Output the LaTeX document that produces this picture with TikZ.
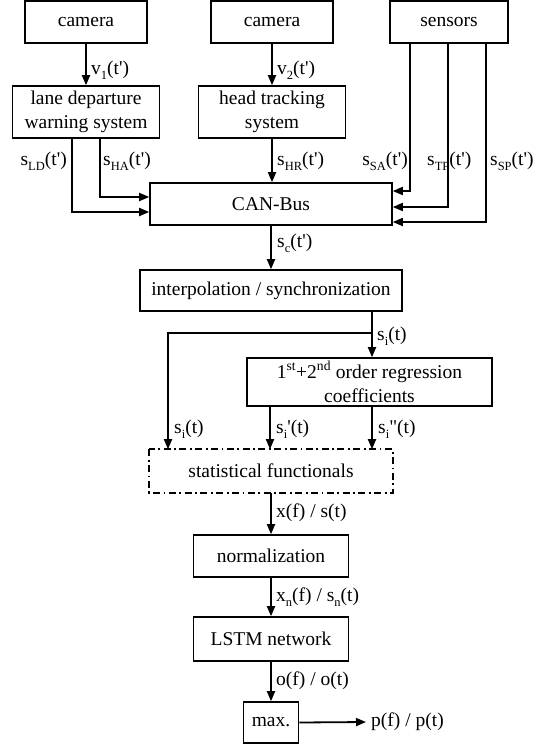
\documentclass[tikz,border=0pt]{standalone}
\usepackage{fontspec}
\setmainfont{Liberation Serif}[Ligatures=TeXOff]
\usetikzlibrary{arrows.meta}
\newcommand\lo[1]{\raisebox{-5pt}{\fontsize{12.5}{12.5}\selectfont #1}}
\newcommand\hi[1]{\textsuperscript{#1}}

\begin{document}
\begin{tikzpicture}[x=1pt,y=-1pt,
  box/.style={draw, line width=1.6pt, inner sep=0pt, align=center,
    font=\fontsize{19.5}{24.5}\selectfont},
  sig/.style={line width=1.8pt, -{Triangle[length=10pt,width=8pt]}},
  lbl/.style={font=\fontsize{19.5}{22}\selectfont, inner sep=0pt}
]
\useasboundingbox (0,0) rectangle (544,744);

% sources
\node[box, minimum width=122pt, minimum height=42pt] (cam1) at (86,22) {camera};
\node[box, minimum width=122pt, minimum height=42pt] (cam2) at (272,22) {camera};
\node[box, minimum width=118pt, minimum height=42pt] (sens) at (449,22) {sensors};

% pre-processing systems
\node[box, minimum width=147pt, minimum height=52pt] (ldw) at (86,112) {lane departure\\warning system};
\node[box, minimum width=147pt, minimum height=52pt] (hts) at (272,112) {head tracking\\system};

% bus and processing chain
\node[box, minimum width=242pt, minimum height=42pt] (can) at (271,204) {CAN-Bus};
\node[box, minimum width=262pt, minimum height=41pt] (interp) at (271,290.5) {interpolation / synchronization};
\node[box, minimum width=245pt, minimum height=48pt] (regr) at (369.5,382) {1\hi{st}+2\hi{nd} order regression\\coefficients};
\node[box, draw=none, minimum width=242pt, minimum height=42pt] (stat) at (271,471) {statistical functionals};
\draw[line width=1.7pt, dash pattern=on 7pt off 3.5pt on 1.8pt off 3.5pt]
  (stat.north west) rectangle (stat.south east);
\node[box, minimum width=155pt, minimum height=42pt] (norm) at (271,556) {normalization};
\node[box, minimum width=155pt, minimum height=44pt] (lstm) at (271,639) {LSTM network};
\node[box, minimum width=55pt, minimum height=41pt] (maxb) at (271,722.5) {max.};

% bends of the signal lines
\coordinate (ldx) at (72,212);
\coordinate (hax) at (100,197);
\coordinate (sax) at (410,191);
\coordinate (tpx) at (448,207);
\coordinate (spx) at (486,222);
\coordinate (six) at (372,333);
\coordinate (brl) at (168,333);
\coordinate (d1) at (270,0);

% connectors
\draw[sig] (cam1) -- (ldw);
\draw[sig] (cam2) -- (hts);
\draw[sig] (ldw.south -| ldx) |- (can.west |- ldx);
\draw[sig] (ldw.south -| hax) |- (can.west |- hax);
\draw[sig] (hts) -- (can.north -| hts);
\draw[sig] (sens.south -| sax) |- (can.east |- sax);
\draw[sig] (sens.south -| tpx) |- (can.east |- tpx);
\draw[sig] (sens.south -| spx) |- (can.east |- spx);
\draw[sig] (can) -- (interp);
\draw[sig] (interp.south -| six) -- (regr.north -| six);
\draw[sig] (six) -- (brl) -- (stat.north -| brl);
\draw[sig] (regr.south -| d1) -- (stat.north -| d1);
\draw[sig] (regr.south -| six) -- (stat.north -| six);
\draw[sig] (stat) -- (norm);
\draw[sig] (norm) -- (lstm);
\draw[sig] (lstm) -- (maxb);
\node[lbl, anchor=west, inner xsep=5pt] (pout) at (366,722) {p(f) / p(t)};
\draw[sig] (maxb.east) -- (pout.west);

% signal labels
\node[lbl, anchor=west] (lv1) at (91,70) {v\lo{1}(t')};
\node[lbl, anchor=west] (lv2) at (277,70) {v\lo{2}(t')};
\node[lbl, anchor=east] (lld) at (67,161) {s\lo{LD}(t')};
\node[lbl, anchor=west] (lha) at (103,161) {s\lo{HA}(t')};
\node[lbl, anchor=west] (lhr) at (277,161) {s\lo{HR}(t')};
\node[lbl, anchor=east] (lsa) at (408,161) {s\lo{SA}(t')};
\node[lbl, anchor=west] (ltp) at (427,161) {s\lo{TP}(t')};
\node[lbl, anchor=west] (lsp) at (490,161) {s\lo{SP}(t')};
\node[lbl, anchor=west] (lsc) at (277,243) {s\lo{c}(t')};
\node[lbl, anchor=west] (lsi) at (377,336) {s\lo{i}(t)};
\node[lbl, anchor=west] (lsi0) at (174,429) {s\lo{i}(t)};
\node[lbl, anchor=west] (lsi1) at (276,429) {s\lo{i}'(t)};
\node[lbl, anchor=west] (lsi2) at (378,429) {s\lo{i}"(t)};
\node[lbl, anchor=west] (lx) at (276,513) {x(f) / s(t)};
\node[lbl, anchor=west] (lxn) at (276,597) {x\lo{n}(f) / s\lo{n}(t)};
\node[lbl, anchor=west] (lo) at (276,681) {o(f) / o(t)};
\end{tikzpicture}
\end{document}
